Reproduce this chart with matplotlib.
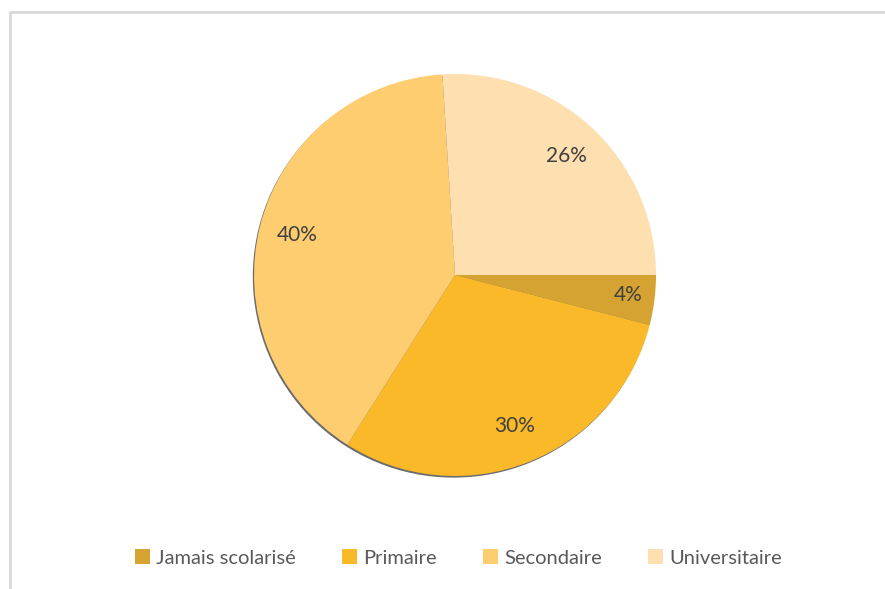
import matplotlib.pyplot as plt
from matplotlib.lines import Line2D
from matplotlib.patches import Patch, Circle

categories = ["Jamais scolarisé", "Primaire", "Secondaire", "Universitaire"]
values = [4, 30, 40, 26]
colors = ["#D6A232", "#F9B928", "#FDCD70", "#FEDFB0"]

plt.rcParams['font.family'] = ['Lato', 'DejaVu Sans']

fig = plt.figure(figsize=(8.85, 5.89), dpi=100)
W, H = 885, 589

# light gray frame (top and left edges only visible)
fig.add_artist(Line2D([9.5 / W, 9.5 / W, 1], [0, 1 - 11.5 / H, 1 - 11.5 / H],
                      color="#D9D9D9", lw=2, transform=fig.transFigure))

cx, cy, r = 455, 275, 201
m = 1.02
ax = fig.add_axes([(cx - r * m) / W, 1 - (cy + r * m) / H, 2 * r * m / W, 2 * r * m / H])
# soft shadow under the pie
ax.add_patch(Circle((-0.006, -0.008), 1.0, facecolor="#6b6b6b", edgecolor="none", zorder=0))
wedges, texts, autotexts = ax.pie(values, colors=colors, startangle=0, counterclock=False,
                                  autopct=lambda p: f"{p:.0f}%", pctdistance=0.81,
                                  wedgeprops=dict(linewidth=0, zorder=1),
                                  textprops=dict(color="#404040", fontsize=15))
autotexts[0].set_position((0.86, -0.1))
ax.set_xlim(-m, m)
ax.set_ylim(-m, m)
ax.set_aspect("equal")

handles = [Patch(facecolor=c, edgecolor="none") for c in colors]
fig.legend(handles, categories, ncol=4, loc="center", bbox_to_anchor=(0.518, 1 - 558 / H),
           frameon=False, fontsize=14.5, handlelength=0.75, handleheight=0.75,
           handletextpad=0.3, columnspacing=2.3, labelcolor="#595959")

fig.savefig("out.png", dpi=100)
